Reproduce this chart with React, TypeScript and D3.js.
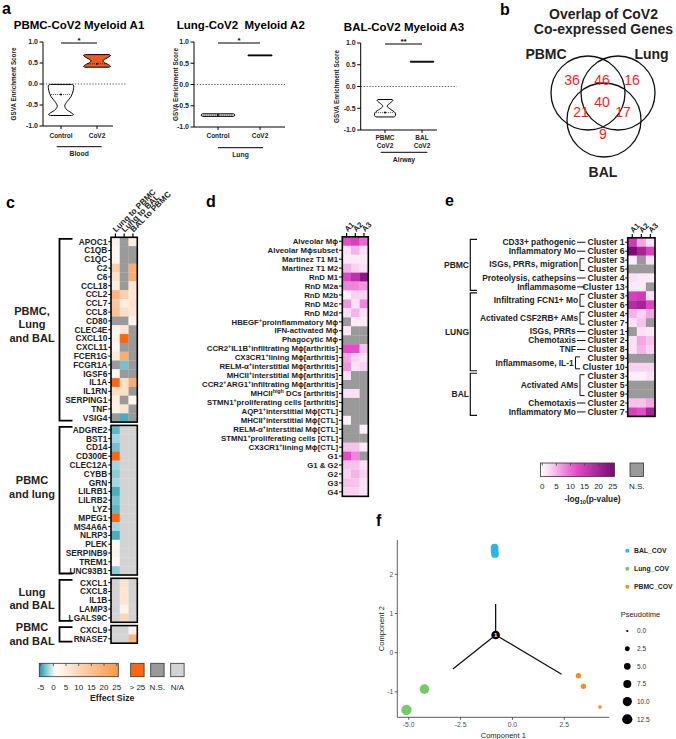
import React from 'react';
import * as d3 from 'd3';

const FONT = "'Liberation Sans', Arial, Helvetica, sans-serif";

/* ============================ DATA ============================ */

// ---- Panel a : GSVA enrichment violins ----
const gsvaTicks = [1, 0.5, 0, -0.5, -1];
const a1Title = 'PBMC-CoV2 Myeloid A1';
const a2Title = 'Lung-CoV2  Myeloid A2';
const a3Title = 'BAL-CoV2 Myeloid A3';
const a1Groups = ['Control', 'CoV2'];
const a2Groups = ['Control', 'CoV2'];
const a3Groups = ['PBMC\nCoV2', 'BAL\nCoV2'];
const aTissues = ['Blood', 'Lung', 'Airway'];
const aSignificance = ['*', '*', '**'];
// violin outlines: [GSVA score, relative half width]
const a1ControlShape: [number, number][] = [[-0.01, 0.85], [-0.03, 1], [-0.15, 0.98], [-0.3, 0.8], [-0.42, 0.48], [-0.52, 0.3], [-0.6, 0.42], [-0.68, 0.8], [-0.73, 1], [-0.75, 0.85]];
const a1CovShape: [number, number][] = [[0.7, 0.88], [0.68, 1], [0.62, 0.75], [0.56, 0.45], [0.52, 0.5], [0.46, 0.85], [0.42, 1], [0.4, 0.88]];
const a2ControlShape: [number, number][] = [[-0.69, 0.92], [-0.7, 1], [-0.74, 1], [-0.75, 0.92]];
const a2CovShape: [number, number][] = [[0.695, 1], [0.675, 1]];
const a3PbmcShape: [number, number][] = [[-0.3, 0.7], [-0.32, 0.75], [-0.38, 0.5], [-0.45, 0.2], [-0.52, 0.5], [-0.6, 0.95], [-0.66, 1], [-0.7, 0.88]];
const a3BalShape: [number, number][] = [[0.58, 1], [0.56, 1]];
const a1Medians = [-0.25, 0.48];
const a2Medians = [-0.72, 0.685];
const a3Medians = [-0.6, 0.57];

// ---- Panel b : Venn ----
const vennTitle = ['Overlap of CoV2', 'Co-expressed Genes'];
const vennSets = ['PBMC', 'Lung', 'BAL'];
// PBMC only, PBMC∩Lung, Lung only, all three, PBMC∩BAL, Lung∩BAL, BAL only
const vennCounts = [36, 46, 16, 40, 21, 17, 9];

// ---- Panel c : effect sizes ----
type Cell = number | 'NS' | 'NA';
const cColumns = ['Lung to PBMC', 'Lung to BAL', 'BAL to PBMC'];
const cGroupTitles = [['PBMC,', 'Lung', 'and BAL'], ['PBMC', 'and lung'], ['Lung', 'and BAL'], ['PBMC', 'and BAL']];
const cAllGenes = ['APOC1', 'C1QB', 'C1QC', 'C2', 'C6', 'CCL18', 'CCL2', 'CCL7', 'CCL8', 'CD80', 'CLEC4E', 'CXCL10', 'CXCL11', 'FCER1G', 'FCGR1A', 'IGSF6', 'IL1A', 'IL1RN', 'SERPING1', 'TNF', 'VSIG4'];
const cAllValues: Cell[][] = [
  [3, 'NS', 5], [2, 'NS', 'NS'], [2, 'NS', 'NS'], [12, 'NS', 20], [7, 'NS', 20], [4, 'NS', 6],
  [18, 12, 6], [14, 4, 7], [15, 8, 6], ['NS', 'NS', 3], [3, 6, 'NS'], [3, 30, 'NS'], [2, 'NS', 'NS'],
  [5, 20, 'NS'], ['NS', -3, 'NS'], [2, 'NS', 'NS'], [30, 8, 20], [8, 8, 'NS'], [4, 'NS', 2], [3, 7, 'NS'], ['NS', -4, 'NS'],
];
const cPbmcLungGenes = ['ADGRE2', 'BST1', 'CD14', 'CD300E', 'CLEC12A', 'CYBB', 'GRN', 'LILRB1', 'LILRB2', 'LYZ', 'MPEG1', 'MS4A6A', 'NLRP3', 'PLEK', 'SERPINB9', 'TREM1', 'UNC93B1'];
const cPbmcLungValues: Cell[][] = [
  [-3.5, 'NA', 'NA'], [-2, 'NA', 'NA'], [-3, 'NA', 'NA'], [30, 'NA', 'NA'], [-2, 'NA', 'NA'], [-2.5, 'NA', 'NA'],
  [-2, 'NA', 'NA'], [-4, 'NA', 'NA'], [-3, 'NA', 'NA'], [-3.5, 'NA', 'NA'], [30, 'NA', 'NA'], [-2, 'NA', 'NA'],
  [-4, 'NA', 'NA'], [2, 'NA', 'NA'], [3, 'NA', 'NA'], [1.5, 'NA', 'NA'], [-2.5, 'NA', 'NA'],
];
const cLungBalGenes = ['CXCL1', 'CXCL8', 'IL1B', 'LAMP3', 'LGALS9C'];
const cLungBalValues: Cell[][] = [['NA', 7, 'NA'], ['NA', 6, 'NA'], ['NA', 6, 'NA'], ['NA', 3, 'NA'], ['NA', 10, 'NA']];
const cPbmcBalGenes = ['CXCL9', 'RNASE7'];
const cPbmcBalValues: Cell[][] = [['NA', 'NA', 3], ['NA', 'NA', 18]];
const effectTicks = [-5, 0, 5, 10, 15, 20, 25];
const effectExtras = ['> 25', 'N.S.', 'N/A'];
const effectTitle = 'Effect Size';

// ---- Panel d : macrophage signatures ----
const dColumns = ['A1', 'A2', 'A3'];
const dRows = [
  'Alveolar Mϕ', 'Alveolar Mϕsubset', 'Martinez T1 M1', 'Martinez T1 M2', 'RnD M1', 'RnD M2a', 'RnD M2b', 'RnD M2c', 'RnD M2d',
  'HBEGF^{+}proinflammatory Mϕ', 'IFN-activated Mϕ', 'Phagocytic Mϕ',
  'CCR2^{+}IL1B^{+}infiltrating Mϕ[arthritis]', 'CX3CR1^{+}lining Mϕ[arthritis]', 'RELM-α^{+}interstitial Mϕ[arthritis]',
  'MHCII^{+}interstitial Mϕ[arthritis]', 'CCR2^{+}ARG1^{+}infiltrating Mϕ[arthritis]', 'MHCII^{high} DCs [arthritis]',
  'STMN1^{+}proliferating cells [arthritis]', 'AQP1^{+}interstitial Mϕ[CTL]', 'MHCII^{+}interstitial Mϕ[CTL]',
  'RELM-α^{+}interstitial Mϕ[CTL]', 'STMN1^{+}proliferating cells [CTL]', 'CX3CR1^{+}lining Mϕ[CTL]',
  'G1', 'G1 & G2', 'G2', 'G3', 'G4',
];
const dValues: Cell[][] = [
  [12, 14, 10], [2, 5, 2], [1.5, 1.5, 1.5], [5, 3, 2], [13, 17, 23], [8, 8, 7], [1, 3, 3], [7, 2, 8], [2, 5, 2],
  ['NS', 1.5, 1.5], [1.5, 'NS', 'NS'], ['NS', 'NS', 'NS'],
  [12, 12, 4], [6, 3, 2], [7, 2, 3], [2, 'NS', 'NS'], ['NS', 'NS', 'NS'], [2, 2, 'NS'],
  ['NS', 'NS', 'NS'], ['NS', 'NS', 'NS'], [1, 'NS', 'NS'], ['NS', 'NS', 1], ['NS', 'NS', 'NS'], [4, 4, 1.5],
  [12, 8, 'NS'], [4, 4, 2], [3, 5, 3], [4, 4, 2], [3, 3, 2],
];

// ---- Panel e : cluster enrichment ----
const eColumns = ['A1', 'A2', 'A3'];
const eGroupNames = ['PBMC', 'LUNG', 'BAL'];
const eGroupSizes = [6, 9, 5];
const eClusters = ['Cluster 1', 'Cluster 6', 'Cluster 3', 'Cluster 5', 'Cluster 4', 'Cluster 13',
  'Cluster 3', 'Cluster 6', 'Cluster 4', 'Cluster 7', 'Cluster 1', 'Cluster 2', 'Cluster 8', 'Cluster 9', 'Cluster 10',
  'Cluster 3', 'Cluster 5', 'Cluster 9', 'Cluster 2', 'Cluster 7'];
const eFunctions: { label: string; first: number; last: number }[] = [
  { label: 'CD33+ pathogenic', first: 0, last: 0 },
  { label: 'Inflammatory Mo', first: 1, last: 1 },
  { label: 'ISGs, PRRs, migration', first: 2, last: 3 },
  { label: 'Proteolysis, cathepsins', first: 4, last: 4 },
  { label: 'Inflammasome', first: 5, last: 5 },
  { label: 'Infiltrating FCN1+ Mo', first: 6, last: 7 },
  { label: 'Activated CSF2RB+ AMs', first: 8, last: 9 },
  { label: 'ISGs, PRRs', first: 10, last: 10 },
  { label: 'Chemotaxis', first: 11, last: 11 },
  { label: 'TNF', first: 12, last: 12 },
  { label: 'Inflammasome, IL-1', first: 13, last: 14 },
  { label: 'Activated AMs', first: 15, last: 17 },
  { label: 'Chemotaxis', first: 18, last: 18 },
  { label: 'Inflammatory Mo', first: 19, last: 19 },
];
const eValues: Cell[][] = [
  [15, 6, 2], [25, 20, 14], [1, 'NS', 2], ['NS', 'NS', 'NS'], [2, 1.5, 1.5], [1.5, 1.5, 'NS'],
  [14, 15, 2], [18, 20, 13], [5, 3, 6], [2, 4, 'NS'], ['NS', 2, 1.5], [2, 6, 4], [2, 5, 3], ['NS', 'NS', 'NS'], [3, 3, 3],
  [1, 1, 2], ['NS', 'NS', 'NS'], ['NS', 'NS', 'NS'], [4, 4, 6], [14, 12, 20],
];
const pTicks = [0, 5, 10, 15, 20, 25];
const pTitle = '-log_{10}(p-value)';

// ---- Panel f : pseudotime trajectory ----
const fSeries = ['BAL_COV', 'Lung_COV', 'PBMC_COV'];
const fBalPoints = [{ x: -0.86, y: 2.68, t: 7 }, { x: -0.86, y: 2.6, t: 7 }, { x: -0.84, y: 2.52, t: 7 }];
const fLungPoints = [{ x: -4.24, y: -0.93, t: 11 }, { x: -5.11, y: -1.46, t: 13 }];
const fPbmcPoints = [{ x: 3.18, y: -0.59, t: 3 }, { x: 3.42, y: -0.86, t: 3 }, { x: 4.22, y: -1.39, t: 1 }];
const fTreeEdges = [[-0.81, 0.45, -0.81, 1.24], [-0.81, 0.45, -2.87, -0.42], [-0.81, 0.45, 2.37, -0.55]];
const fBranchNode = { x: -0.81, y: 0.45, label: '1' };
const fXTicks = [-5, -2.5, 0, 2.5];
const fYTicks = [-1, 0, 1, 2];
const pseudotimeTicks = [0, 2.5, 5, 7.5, 10, 12.5];

/* ============================ STYLES / SCALES ============================ */
const seriesColors = ['#29b6ee', '#77c86d', '#f68d1e'];
const effectScale = d3.scaleLinear<string>().domain([-5, 0, 25]).range(['#1b98ae', '#ffffff', '#f69a4c']).clamp(true);
const pScale = d3.scaleLinear<string>().domain([0, 12, 25]).range(['#ffffff', '#e64bc9', '#7c0b78']).clamp(true);
const NS_COLOR = '#9a9a9a';
const NA_COLOR = '#d3d3d3';
const OVER_COLOR = '#fe6510';
const effectColor = (v: Cell) => (v === 'NS' ? NS_COLOR : v === 'NA' ? NA_COLOR : v > 25 ? OVER_COLOR : effectScale(v));
const pColor = (v: Cell) => (v === 'NS' ? NS_COLOR : v === 'NA' ? NA_COLOR : pScale(v));

/* ============================ HELPERS ============================ */
function Rich({ text, x, y, fontSize, anchor = 'start', weight = 'bold', fill = '#111', transform }: any) {
  const re = /(\^|_)\{([^}]*)\}/g;
  const parts: { t: string; k: string }[] = [];
  let last = 0;
  let m: RegExpExecArray | null;
  while ((m = re.exec(text)) !== null) {
    if (m.index > last) parts.push({ t: text.slice(last, m.index), k: 'n' });
    parts.push({ t: m[2], k: m[1] === '^' ? 'sup' : 'sub' });
    last = re.lastIndex;
  }
  if (last < text.length) parts.push({ t: text.slice(last), k: 'n' });
  let cur = 0;
  return (
    <text x={x} y={y} fontSize={fontSize} textAnchor={anchor} fontWeight={weight} fill={fill} transform={transform} style={{ whiteSpace: 'pre' }}>
      {parts.map((p, i) => {
        const target = p.k === 'sup' ? -0.38 * fontSize : p.k === 'sub' ? 0.25 * fontSize : 0;
        const dy = target - cur;
        cur = target;
        return <tspan key={i} dy={dy} fontSize={p.k === 'n' ? fontSize : fontSize * 0.68}>{p.t}</tspan>;
      })}
    </text>
  );
}

function PanelLetter({ x, y, l }: { x: number; y: number; l: string }) {
  return <text x={x} y={y} fontSize={16} fontWeight={900}>{l}</text>;
}

/* ============================ PANEL A ============================ */
const violinLayouts = [
  { axisX: 43, xr: [43, 115], axisEnd: 113, dotEnd: 127, yTop: 42, yBot: 126, half: [12.5, 13.5], titleX: 79, titleY: 29, yTitleX: 16, catY: 137.6, line: [56.7, 101.7, 146.7], tissueY: 156.3 },
  { axisX: 194, xr: [197, 281], axisEnd: 285, dotEnd: 285, yTop: 42, yBot: 127, half: [16.5, 12], titleX: 240.8, titleY: 29, yTitleX: 177.5, catY: 137.6, line: [218, 263, 147.7], tissueY: 157.3 },
  { axisX: 360.7, xr: [366.5, 440.5], axisEnd: 437, dotEnd: 456.7, yTop: 43, yBot: 130, half: [10.5, 11.7], titleX: 404, titleY: 31, yTitleX: 338.5, catY: 139.6, line: [380.7, 427.3, 152.3], tissueY: 161.5 },
];

function ViolinPlot({ L, title, groups, shapes, medians, fills, sig, tissue }: any) {
  const y = d3.scaleLinear().domain([-1, 1]).range([L.yBot, L.yTop]);
  const x = d3.scalePoint<string>().domain(groups).range(L.xr).padding(0.5);
  const midY = (L.yTop + L.yBot) / 2;
  return (
    <g>
      <text x={L.titleX} y={L.titleY} textAnchor="middle" fontSize={11.5} fontWeight="bold" style={{ whiteSpace: 'pre' }}>{title}</text>
      <text transform={`translate(${L.yTitleX},${midY}) rotate(-90)`} textAnchor="middle" fontSize={6.3} fontWeight="bold" fill="#222">GSVA Enrichment Score</text>
      <line x1={L.axisX} x2={L.axisX} y1={y(1)} y2={y(-1)} stroke="#000" strokeWidth={1} />
      {gsvaTicks.map((t) => (
        <g key={t}>
          <line x1={L.axisX - 3.5} x2={L.axisX} y1={y(t)} y2={y(t)} stroke="#000" strokeWidth={1} />
          <text x={L.axisX - 5} y={y(t) + 2.4} textAnchor="end" fontSize={7} fontWeight="bold" fill="#222">{t.toFixed(1)}</text>
        </g>
      ))}
      <line x1={L.axisX} x2={L.axisEnd} y1={y(-1)} y2={y(-1)} stroke="#000" strokeWidth={1} />
      <line x1={L.axisX} x2={L.dotEnd} y1={y(0)} y2={y(0)} stroke="#333" strokeWidth={0.8} strokeDasharray="1.3 1.6" />
      {groups.map((g: string, i: number) => {
        const cx = x(g) as number;
        const hw = L.half[i];
        const area = d3.area<[number, number]>()
          .curve(d3.curveCatmullRom.alpha(0.5))
          .y((d) => y(d[0]))
          .x0((d) => cx - d[1] * hw)
          .x1((d) => cx + d[1] * hw);
        const widthAt = d3.scaleLinear().domain(shapes[i].map((d: any) => d[0])).range(shapes[i].map((d: any) => d[1])).clamp(true);
        const mw = widthAt(medians[i]) * hw * 0.92;
        const lines = g.split('\n');
        return (
          <g key={g}>
            <line x1={cx} x2={cx} y1={y(-1)} y2={y(-1) + 3} stroke="#000" />
            {lines.map((ln, k) => (
              <text key={k} x={cx} y={L.catY + k * 8.4} textAnchor="middle" fontSize={6.5} fontWeight="bold" fill="#222">{ln}</text>
            ))}
            <path d={area(shapes[i]) as string} fill={fills[i]} stroke="#000" strokeWidth={1} />
            {fills[i] !== '#000' && (
              <g>
                <line x1={cx - mw} x2={cx + mw} y1={y(medians[i])} y2={y(medians[i])} stroke="#000" strokeWidth={0.7} strokeDasharray="1 1" />
                <circle cx={cx} cy={y(medians[i])} r={1} fill="#000" />
              </g>
            )}
          </g>
        );
      })}
      <line x1={x(groups[0])} x2={x(groups[1])} y1={L.yTop + 1} y2={L.yTop + 1} stroke="#000" strokeWidth={1} />
      <text x={((x(groups[0]) as number) + (x(groups[1]) as number)) / 2} y={L.yTop + 1} textAnchor="middle" fontSize={8} fontWeight="bold">{sig}</text>
      <line x1={L.line[0]} x2={L.line[1]} y1={L.line[2]} y2={L.line[2]} stroke="#000" strokeWidth={1} />
      <text x={(L.line[0] + L.line[1]) / 2} y={L.tissueY} textAnchor="middle" fontSize={6.8} fontWeight="bold" fill="#222">{tissue}</text>
    </g>
  );
}

function PanelA() {
  return (
    <g>
      <PanelLetter x={2} y={14} l="a" />
      <ViolinPlot L={violinLayouts[0]} title={a1Title} groups={a1Groups} shapes={[a1ControlShape, a1CovShape]} medians={a1Medians} fills={['#fff', '#f25a24']} sig={aSignificance[0]} tissue={aTissues[0]} />
      <ViolinPlot L={violinLayouts[1]} title={a2Title} groups={a2Groups} shapes={[a2ControlShape, a2CovShape]} medians={a2Medians} fills={['#f4f4f4', '#000']} sig={aSignificance[1]} tissue={aTissues[1]} />
      <ViolinPlot L={violinLayouts[2]} title={a3Title} groups={a3Groups} shapes={[a3PbmcShape, a3BalShape]} medians={a3Medians} fills={['#fff', '#000']} sig={aSignificance[2]} tissue={aTissues[2]} />
    </g>
  );
}

/* ============================ PANEL B ============================ */
const vennCircles = [{ cx: 588, cy: 93 }, { cx: 618, cy: 93 }, { cx: 604, cy: 120 }];
const vennR = 37;
const vennLabelPos = [{ x: 546, y: 58.5 }, { x: 651.5, y: 58.5 }, { x: 603, y: 176.5 }];
const vennCountPos = [[572, 80], [602, 80], [632, 80], [602, 102], [581, 112], [623, 112], [603, 134]];

function PanelB() {
  return (
    <g>
      <PanelLetter x={500} y={15} l="b" />
      {vennTitle.map((t, i) => (
        <text key={i} x={603.5} y={19 + i * 15} textAnchor="middle" fontSize={14} fontWeight="bold" fill="#222">{t}</text>
      ))}
      {vennCircles.map((c, i) => (
        <circle key={i} cx={c.cx} cy={c.cy} r={vennR} fill="none" stroke="#111" strokeWidth={1.3} />
      ))}
      {vennSets.map((s, i) => (
        <text key={s} x={vennLabelPos[i].x} y={vennLabelPos[i].y} textAnchor="middle" fontSize={14} fontWeight="bold" fill="#222">{s}</text>
      ))}
      {vennCounts.map((n, i) => (
        <text key={i} x={vennCountPos[i][0]} y={vennCountPos[i][1] + 5} textAnchor="middle" fontSize={14} fill="#ff1a1a">{n}</text>
      ))}
    </g>
  );
}

/* ============================ PANEL C ============================ */
function PanelC() {
  const groups = [
    { genes: cAllGenes, values: cAllValues },
    { genes: cPbmcLungGenes, values: cPbmcLungValues },
    { genes: cLungBalGenes, values: cLungBalValues },
    { genes: cPbmcBalGenes, values: cPbmcBalValues },
  ];
  const h = 8.8, top = 237.3, gap = 3.3;
  const x = d3.scaleBand<string>().domain(cColumns).range([111, 137.3]);
  const labelCenters = [324.3, 487, 598.3, 634];
  let idx = 0;
  const boxes: { y0: number; y1: number }[] = [];
  const rows: { gene: string; vals: Cell[]; y: number }[] = [];
  groups.forEach((g, gi) => {
    const y0 = top + idx * h + gi * gap;
    g.genes.forEach((gene, ri) => rows.push({ gene, vals: g.values[ri], y: y0 + ri * h }));
    idx += g.genes.length;
    boxes.push({ y0, y1: y0 + g.genes.length * h });
  });
  const legendX = d3.scaleLinear().domain([-5, 25]).range([40.7, 116.7]);
  return (
    <g>
      <PanelLetter x={6} y={208} l="c" />
      {cColumns.map((c) => {
        const cx = (x(c) as number) + x.bandwidth() / 2;
        return (
          <g key={c}>
            <line x1={cx} x2={cx} y1={top - 3.8} y2={top} stroke="#000" strokeWidth={1.2} />
            <text transform={`translate(${cx + 0.5},${top - 4.5}) rotate(-45)`} fontSize={8.3} fontWeight="bold" fill="#222">{c}</text>
          </g>
        );
      })}
      {rows.map((r) => (
        <g key={r.gene}>
          {r.vals.map((v, ci) => (
            <rect key={ci} x={x(cColumns[ci])} y={r.y} width={x.bandwidth() + 0.2} height={h + 0.2} fill={effectColor(v)} />
          ))}
          <line x1={108.3} x2={111} y1={r.y + h / 2} y2={r.y + h / 2} stroke="#000" strokeWidth={1} />
          <text x={107.3} y={r.y + h / 2 + 2.9} textAnchor="end" fontSize={8.3} fontWeight="bold" fill="#222">{r.gene}</text>
        </g>
      ))}
      {boxes.map((b, i) => (
        <g key={i}>
          <rect x={111} y={b.y0} width={26.3} height={b.y1 - b.y0} fill="none" stroke="#000" strokeWidth={1.6} />
          <path d={`M72.5,${b.y0 + 1.5}H59.5V${b.y1 - 1.5}H72.5`} fill="none" stroke="#000" strokeWidth={1.8} />
          {cGroupTitles[i].map((t, k, arr) => (
            <text key={k} x={32} y={labelCenters[i] + (k - (arr.length - 1) / 2) * 13.4 + 3.9} textAnchor="middle" fontSize={11} fontWeight="bold" fill="#222">{t}</text>
          ))}
        </g>
      ))}
      {/* legend */}
      <defs>
        <linearGradient id="effGrad" x1="0" x2="1" y1="0" y2="0">
          {d3.range(0, 1.0001, 0.1).map((f) => (
            <stop key={f} offset={`${f * 100}%`} stopColor={effectScale(legendX.invert(39.3 + f * 79))} />
          ))}
        </linearGradient>
      </defs>
      <rect x={39.3} y={663.3} width={79} height={13.4} fill="url(#effGrad)" stroke="#333" strokeWidth={0.8} />
      {effectTicks.map((t) => (
        <g key={t}>
          <line x1={legendX(t)} x2={legendX(t)} y1={663.3} y2={666} stroke="#444" strokeWidth={0.8} />
          <text x={legendX(t)} y={689.5} textAnchor="middle" fontSize={8} fill="#222">{t}</text>
        </g>
      ))}
      {[OVER_COLOR, NS_COLOR, NA_COLOR].map((col, i) => (
        <g key={i}>
          <rect x={130.7 + i * 20} y={663.3} width={13.4} height={13.4} fill={col} stroke="#333" strokeWidth={0.8} />
          <text x={137.4 + i * 20} y={689.5} textAnchor="middle" fontSize={8} fill="#222">{effectExtras[i]}</text>
        </g>
      ))}
      <text x={112.2} y={701.3} textAnchor="middle" fontSize={8.8} fontWeight="bold" fill="#222">{effectTitle}</text>
    </g>
  );
}

/* ============================ PANEL D ============================ */
function PanelD() {
  const h = 8.95, top = 236.8;
  const x = d3.scaleBand<string>().domain(dColumns).range([342.3, 368.3]);
  const y = d3.scaleBand<string>().domain(dRows.map((_, i) => String(i))).range([top, top + dRows.length * h]);
  return (
    <g>
      <PanelLetter x={206} y={207} l="d" />
      {dColumns.map((c) => {
        const cx = (x(c) as number) + x.bandwidth() / 2;
        return (
          <g key={c}>
            <line x1={cx} x2={cx} y1={top - 3.8} y2={top} stroke="#000" strokeWidth={1.2} />
            <text transform={`translate(${cx + 1},${top - 4.5}) rotate(-45)`} fontSize={7.8} fontWeight="bold" fill="#222">{c}</text>
          </g>
        );
      })}
      {dRows.map((r, i) => {
        const yy = y(String(i)) as number;
        return (
          <g key={i}>
            {dValues[i].map((v, ci) => (
              <rect key={ci} x={x(dColumns[ci])} y={yy} width={x.bandwidth() + 0.2} height={h + 0.2} fill={pColor(v)} />
            ))}
            <line x1={339} x2={342.3} y1={yy + h / 2} y2={yy + h / 2} stroke="#000" strokeWidth={1} />
            <Rich text={r} x={338} y={yy + h / 2 + 2.7} fontSize={7.8} anchor="end" fill="#222" />
          </g>
        );
      })}
      <rect x={342.3} y={top} width={26} height={dRows.length * h} fill="none" stroke="#000" strokeWidth={1.6} />
    </g>
  );
}

/* ============================ PANEL E ============================ */
function PanelE() {
  const h = 8.93, top = 237.8;
  const x = d3.scaleBand<string>().domain(eColumns).range([627.7, 655]);
  const cy = (i: number) => top + (i + 0.5) * h;
  const legendX = d3.scaleLinear().domain([0, 25]).range([542.3, 612.7]);
  let start = 0;
  const groupSpans = eGroupSizes.map((n) => {
    const s = start;
    start += n;
    return { s, n };
  });
  return (
    <g>
      <PanelLetter x={445} y={206} l="e" />
      {eColumns.map((c) => {
        const cx = (x(c) as number) + x.bandwidth() / 2;
        return (
          <g key={c}>
            <line x1={cx} x2={cx} y1={top - 3.8} y2={top} stroke="#000" strokeWidth={1.2} />
            <text transform={`translate(${cx + 1},${top - 4.5}) rotate(-45)`} fontSize={7.8} fontWeight="bold" fill="#222">{c}</text>
          </g>
        );
      })}
      {eClusters.map((cl, i) => (
        <g key={i}>
          {eValues[i].map((v, ci) => (
            <rect key={ci} x={x(eColumns[ci])} y={top + i * h} width={x.bandwidth() + 0.2} height={h + 0.2} fill={pColor(v)} />
          ))}
          <line x1={625.3} x2={627.7} y1={cy(i)} y2={cy(i)} stroke="#000" strokeWidth={1} />
          <text x={624.6} y={cy(i) + 3} textAnchor="end" fontSize={8.7} fontWeight="bold" fill="#222">{cl}</text>
        </g>
      ))}
      <rect x={627.7} y={top} width={27.3} height={eClusters.length * h} fill="none" stroke="#000" strokeWidth={1.6} />
      {eFunctions.map((f, i) => {
        if (f.first === f.last) {
          return (
            <g key={i}>
              <line x1={577} x2={585.5} y1={cy(f.first)} y2={cy(f.first)} stroke="#111" strokeWidth={1} />
              <text x={575.8} y={cy(f.first) + 2.9} textAnchor="end" fontSize={8.4} fontWeight="bold" fill="#222">{f.label}</text>
            </g>
          );
        }
        const bx = f.label === 'Inflammasome, IL-1' ? 575.5 : 580;
        const y0 = cy(f.first) - 1.5, y1 = cy(f.last) + 1.5;
        return (
          <g key={i}>
            <path d={`M${bx + 4.5},${y0}H${bx}V${y1}H${bx + 4.5}`} fill="none" stroke="#111" strokeWidth={1} />
            <text x={bx - 1.8} y={(y0 + y1) / 2 + 2.9} textAnchor="end" fontSize={8.4} fontWeight="bold" fill="#222">{f.label}</text>
          </g>
        );
      })}
      {groupSpans.map((g, i) => {
        const y0 = top + g.s * h + 1.5, y1 = top + (g.s + g.n) * h - 1;
        return (
          <g key={i}>
            <path d={`M477,${y0}H470.3V${y1}H477`} fill="none" stroke="#111" strokeWidth={1.2} />
            <text x={469} y={(y0 + y1) / 2 + 3} textAnchor="end" fontSize={8.5} fontWeight="bold" fill="#222">{eGroupNames[i]}</text>
          </g>
        );
      })}
      {/* legend */}
      <defs>
        <linearGradient id="pGrad" x1="0" x2="1" y1="0" y2="0">
          {d3.range(0, 1.0001, 0.1).map((f) => (
            <stop key={f} offset={`${f * 100}%`} stopColor={pScale(legendX.invert(540.5 + f * 74))} />
          ))}
        </linearGradient>
      </defs>
      <rect x={540.5} y={463} width={74} height={13.5} fill="url(#pGrad)" stroke="#333" strokeWidth={0.8} />
      {pTicks.map((t) => (
        <g key={t}>
          <line x1={legendX(t)} x2={legendX(t)} y1={463} y2={465.7} stroke="#444" strokeWidth={0.8} />
          <text x={legendX(t)} y={489} textAnchor="middle" fontSize={8} fill="#222">{t}</text>
        </g>
      ))}
      <rect x={630} y={463} width={13.5} height={13.5} fill={NS_COLOR} stroke="#333" strokeWidth={0.8} />
      <text x={636.7} y={489} textAnchor="middle" fontSize={8} fill="#222">N.S.</text>
      <Rich text={pTitle} x={592.5} y={501.5} fontSize={8.3} anchor="middle" fill="#222" />
    </g>
  );
}

/* ============================ PANEL F ============================ */
function PanelF() {
  const fx = d3.scaleLinear().domain([-5.55, 4.67]).range([397.3, 609.3]);
  const fy = d3.scaleLinear().domain([-1.65, 2.875]).range([717.3, 540]);
  const sizeArea = d3.scaleLinear().domain([0, 12.5]).range([1.2, 26]);
  const r = (t: number) => Math.sqrt(sizeArea(t));
  const series = [fBalPoints, fLungPoints, fPbmcPoints];
  const [x0, x1] = fx.range();
  const [yb, yt] = fy.range();
  return (
    <g>
      <PanelLetter x={376} y={526} l="f" />
      <line x1={x0} x2={x0} y1={yt} y2={yb} stroke="#333" strokeWidth={0.8} />
      <line x1={x0} x2={x1} y1={yb} y2={yb} stroke="#333" strokeWidth={0.8} />
      {fXTicks.map((t) => (
        <g key={t}>
          <line x1={fx(t)} x2={fx(t)} y1={yb} y2={yb + 2.5} stroke="#333" strokeWidth={0.8} />
          <text x={fx(t)} y={yb + 9.5} textAnchor="middle" fontSize={6.8} fill="#4d4d4d">{t.toFixed(1)}</text>
        </g>
      ))}
      {fYTicks.map((t) => (
        <g key={t}>
          <line x1={x0 - 2.5} x2={x0} y1={fy(t)} y2={fy(t)} stroke="#333" strokeWidth={0.8} />
          <text x={x0 - 4} y={fy(t) + 2.4} textAnchor="end" fontSize={6.8} fill="#4d4d4d">{t}</text>
        </g>
      ))}
      <text x={(x0 + x1) / 2} y={738} textAnchor="middle" fontSize={7.5} fill="#222">Component 1</text>
      <text transform={`translate(${384},${(yt + yb) / 2}) rotate(-90)`} textAnchor="middle" fontSize={7.5} fill="#222">Component 2</text>
      {fTreeEdges.map((e, i) => (
        <line key={i} x1={fx(e[0])} y1={fy(e[1])} x2={fx(e[2])} y2={fy(e[3])} stroke="#111" strokeWidth={1.3} />
      ))}
      {series.map((pts, si) =>
        pts.map((p, i) => <circle key={`${si}-${i}`} cx={fx(p.x)} cy={fy(p.y)} r={r(p.t)} fill={seriesColors[si]} />)
      )}
      <circle cx={fx(fBranchNode.x)} cy={fy(fBranchNode.y)} r={4.3} fill="#000" />
      <text x={fx(fBranchNode.x)} y={fy(fBranchNode.y) + 2.2} textAnchor="middle" fontSize={6} fontWeight="bold" fill="#fff">{fBranchNode.label}</text>
      {/* legend */}
      {fSeries.map((s, i) => (
        <g key={s}>
          <circle cx={627.3} cy={550.7 + i * 18} r={2} fill={seriesColors[i]} />
          <text x={634} y={550.7 + i * 18 + 2.4} fontSize={6.8} fontWeight="bold" fill="#222">{s}</text>
        </g>
      ))}
      <text x={620.7} y={617} fontSize={7.5} fill="#222">Pseudotime</text>
      {pseudotimeTicks.map((t, i) => (
        <g key={t}>
          <circle cx={627.3} cy={631 + i * 17.65} r={r(t)} fill="#000" />
          <text x={637} y={631 + i * 17.65 + 2.3} fontSize={6.5} fill="#333">{t.toFixed(1)}</text>
        </g>
      ))}
    </g>
  );
}

/* ============================ APP ============================ */
export default function App() {
  return (
    <svg width={676} height={739} viewBox="0 0 676 739" style={{ position: 'absolute', left: 0, top: 0, display: 'block' }} fontFamily={FONT}>
      <rect width={676} height={739} fill="#fff" />
      <PanelA />
      <PanelB />
      <PanelC />
      <PanelD />
      <PanelE />
      <PanelF />
    </svg>
  );
}
